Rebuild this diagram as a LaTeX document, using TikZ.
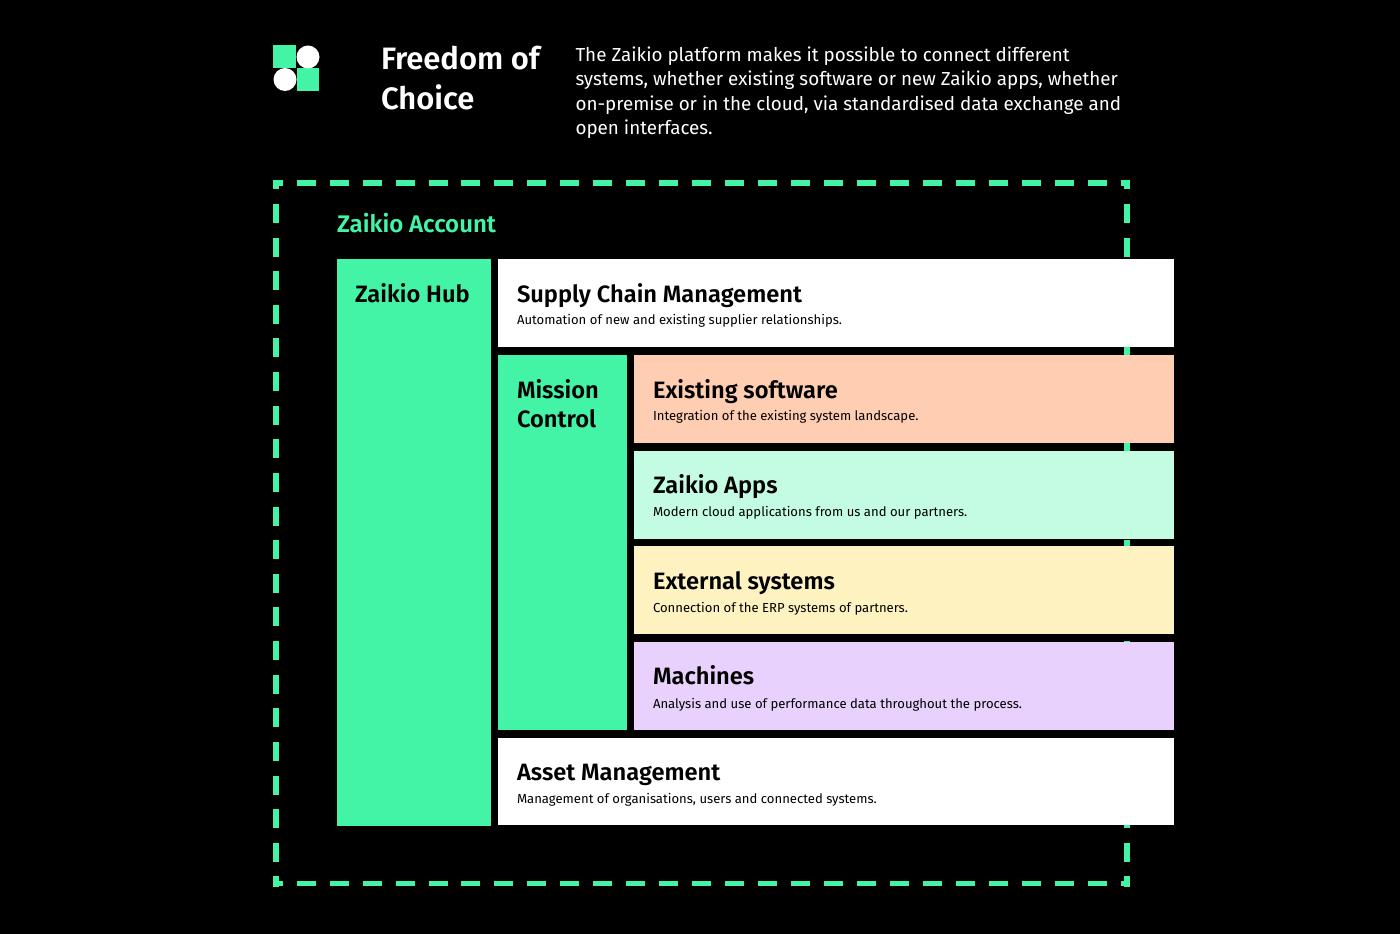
\documentclass[tikz,border=0pt]{standalone}
\usepackage{fontspec}
\setmainfont{Fira Sans}[BoldFont={Fira Sans SemiBold}]
\definecolor{zgreen}{HTML}{43F3A6}
\definecolor{zpeach}{HTML}{FFCDB2}
\definecolor{zmint}{HTML}{C3FBE3}
\definecolor{zyellow}{HTML}{FEF2C0}
\definecolor{zlilac}{HTML}{E9D1FD}
\tikzset{
  x=0.75pt,y=-0.75pt,
  panel/.style={draw=none,inner sep=0pt,outer sep=0pt,anchor=north west},
  lbl/.style={inner sep=0pt,outer sep=0pt,anchor=base west,text=black},
  heading/.style={lbl,font=\fontsize{17.75pt}{20pt}\selectfont\bfseries},
  sub/.style={lbl,font=\fontsize{9.82pt}{12pt}\selectfont},
  para/.style={lbl,text=white,font=\fontsize{14.12pt}{18pt}\selectfont},
  titletext/.style={lbl,text=white,font=\fontsize{23.2pt}{26pt}\selectfont\bfseries},
  hdash/.style={draw=zgreen,line width=4.3pt,line cap=butt,dash pattern=on 14.25pt off 10.47pt},
  vdash/.style={draw=zgreen,line width=4.3pt,line cap=butt,dash pattern=on 14.25pt off 10.97pt},
}
\begin{document}
\begin{tikzpicture}
\useasboundingbox (0,0) rectangle (1400,934);
\fill[black] (0,0) rectangle (1400,934);
% logo
\fill[zgreen] (273,45.5) rectangle (296,68);
\fill[zgreen] (296.5,68) rectangle (319,91);
\fill[white] (308,57) circle[radius=11.5];
\fill[white] (285,79.5) circle[radius=11.5];
% header
\node[titletext] (t1) at (381,70) {Freedom of};
\node[titletext] (t2) at (381,110) {Choice};
\node[para] (p1) at (575.5,61.5) {The Zaikio platform makes it possible to connect different};
\node[para] (p2) at (575.5,86) {systems, whether existing software or new Zaikio apps, whether};
\node[para] (p3) at (575.5,110.5) {on-premise or in the cloud, via standardised data exchange and};
\node[para] (p4) at (575.5,135) {open interfaces.};
% dashed account frame
\draw[hdash,dash phase=7.2pt] (273.3,183) -- (1130,183);
\draw[hdash,dash phase=7.2pt] (273.3,883.5) -- (1130,883.5);
\draw[vdash,dash phase=7.25pt] (276.3,180) -- (276.3,886.5);
\draw[vdash,dash phase=7.25pt] (1127,180) -- (1127,886.5);
\node[lbl,text=zgreen,font=\fontsize{18pt}{20pt}\selectfont\bfseries] (acct) at (337,232.5) {Zaikio Account};
% panels
\node[panel,fill=zgreen,minimum width=115.5pt,minimum height=424.5pt] (hub) at (337,259.5) {};
\node[panel,fill=white,minimum width=507pt,minimum height=66pt] (scm) at (498,259.5) {};
\node[panel,fill=zgreen,minimum width=96.75pt,minimum height=281.25pt] (mc) at (498,355) {};
\node[panel,fill=zpeach,minimum width=405pt,minimum height=66pt] (es) at (634,355) {};
\node[panel,fill=zmint,minimum width=405pt,minimum height=66pt] (za) at (634,451) {};
\node[panel,fill=zyellow,minimum width=405pt,minimum height=66pt] (ex) at (634,546) {};
\node[panel,fill=zlilac,minimum width=405pt,minimum height=66pt] (ma) at (634,642) {};
\node[panel,fill=white,minimum width=507pt,minimum height=65.6pt] (am) at (498,738) {};
% labels
\node[heading] (hubt) at (355,302.5) {Zaikio Hub};
\node[heading] (scmt) at (517,302.5) {Supply Chain Management};
\node[sub] (scms) at (517,325) {Automation of new and existing supplier relationships.};
\node[heading] (mc1) at (517,398.5) {Mission};
\node[heading] (mc2) at (517,427.5) {Control};
\node[heading] (est) at (653,398) {Existing software};
\node[sub] (ess) at (653,421) {Integration of the existing system landscape.};
\node[heading] (zat) at (653,493.5) {Zaikio Apps};
\node[sub] (zas) at (653,516) {Modern cloud applications from us and our partners.};
\node[heading] (ext) at (653,589) {External systems};
\node[sub] (exs) at (653,612) {Connection of the ERP systems of partners.};
\node[heading] (mat) at (653,684.5) {Machines};
\node[sub] (mas) at (653,708) {Analysis and use of performance data throughout the process.};
\node[heading] (amt) at (517,780) {Asset Management};
\node[sub] (ams) at (517,803) {Management of organisations, users and connected systems.};
\end{tikzpicture}
\end{document}
